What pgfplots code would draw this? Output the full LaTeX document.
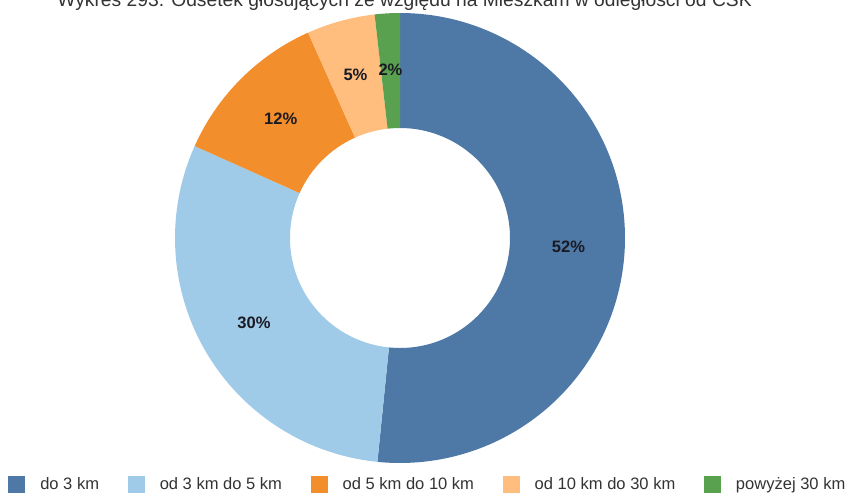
\documentclass[border=0pt]{standalone}
\usepackage{fontspec}
\setmainfont{Liberation Sans}
\usepackage{pgfplots}
\usepackage{pgfplotstable}
\pgfplotsset{compat=1.18}

\definecolor{c0}{HTML}{4E79A7}
\definecolor{c1}{HTML}{A0CBE8}
\definecolor{c2}{HTML}{F28E2B}
\definecolor{c3}{HTML}{FFBE7D}
\definecolor{c4}{HTML}{59A14F}
\definecolor{txt}{HTML}{333333}

% share of voters, clockwise from the top
\pgfplotstableread{
value label
51.6  52
30.1  30
11.6  12
4.9   5
1.8   2
}\odsetek

% start/end angle of each slice
\xdef\cum{90}
\foreach \i in {0,...,4}{%
  \pgfplotstablegetelem{\i}{value}\of\odsetek
  \pgfmathsetmacro\a{\cum-3.6*\pgfplotsretval}%
  \expandafter\xdef\csname angS\i\endcsname{\cum}%
  \expandafter\xdef\csname angE\i\endcsname{\a}%
  \pgfplotstablegetelem{\i}{label}\of\odsetek
  \expandafter\xdef\csname lab\i\endcsname{\pgfplotsretval}%
  \xdef\cum{\a}%
}
\def\Rout{168.75pt}
\def\Rin{82.5pt}
\def\Rlab{126.5pt}

\begin{document}
\begin{tikzpicture}[x=0.75pt,y=0.75pt]
\useasboundingbox (0,0) rectangle (851,497);
\coordinate (pc) at (400,259);
\node[anchor=base, text=txt, font=\fontsize{14.45}{16}\selectfont] at (404.5,490)
  {Wykres 293. Odsetek głosujących ze względu na Mieszkam w odległości od CSK};
\begin{axis}[
    at={(pc)}, anchor=origin,
    x=168.75pt, y=168.75pt,
    xmin=-1.1, xmax=1.1, ymin=-1.1, ymax=1.1,
    hide axis,
    clip=false,
    legend columns=5,
    legend image code/.code={\fill[#1] (0pt,-6.375pt) rectangle (12.75pt,6.375pt);},
    legend style={
        draw=none, fill=none, inner sep=0pt,
        at={(-0.2919,0.003)}, anchor=west,
        font=\fontsize{12.4}{14}\selectfont, text=txt,
        nodes={inner sep=0pt},
        /tikz/every odd column/.append style={column sep=11.25pt},
        /tikz/every even column/.append style={column sep=21.5pt},
    },
]
\pgfplotsinvokeforeach{0,...,4}{
  \fill[c#1, shift={(axis cs:0,0)}]
    (\csname angS#1\endcsname:\Rout)
    arc[start angle=\csname angS#1\endcsname, end angle=\csname angE#1\endcsname, radius=\Rout]
    -- (\csname angE#1\endcsname:\Rin)
    arc[start angle=\csname angE#1\endcsname, end angle=\csname angS#1\endcsname, radius=\Rin]
    -- cycle;
  \path[shift={(axis cs:0,0)}]
    ({(\csname angS#1\endcsname+\csname angE#1\endcsname)/2}:\Rlab)
    node[font=\bfseries\fontsize{12.4}{14}\selectfont, text={rgb,255:red,26;green,26;blue,36}]
    {\csname lab#1\endcsname\%};
}
\addlegendimage{fill=c0, draw=none}\addlegendentry{do 3 km}
\addlegendimage{fill=c1, draw=none}\addlegendentry{od 3 km do 5 km}
\addlegendimage{fill=c2, draw=none}\addlegendentry{od 5 km do 10 km}
\addlegendimage{fill=c3, draw=none}\addlegendentry{od 10 km do 30 km}
\addlegendimage{fill=c4, draw=none}\addlegendentry{powyżej 30 km}
\end{axis}
\end{tikzpicture}
\end{document}
